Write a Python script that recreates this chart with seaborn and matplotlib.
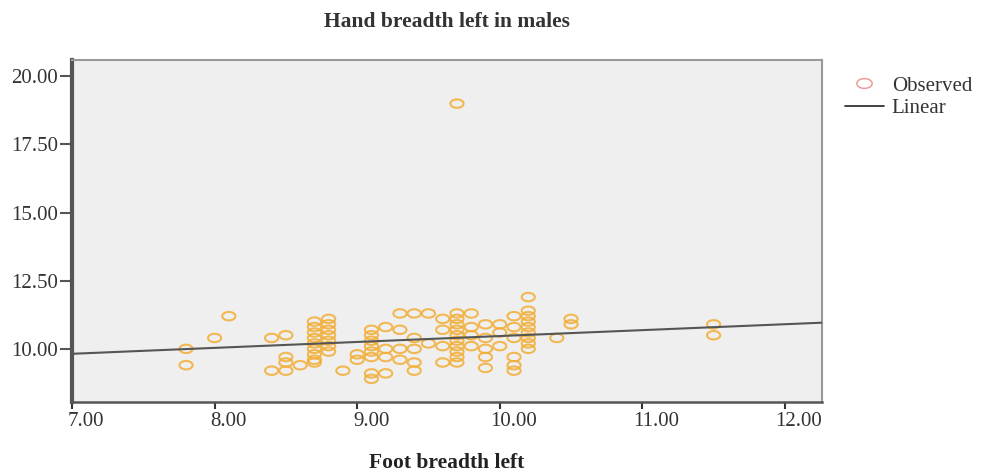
import numpy as np
import pandas as pd
import seaborn as sns
import matplotlib
matplotlib.use("Agg")
import matplotlib.pyplot as plt
from matplotlib.path import Path
from matplotlib.lines import Line2D
from matplotlib.transforms import ScaledTranslation

# ---- data ----
foot_breadth = (
    [7.8] * 2 + [8.0] + [8.1] + [8.4] * 2 + [8.5] * 4 + [8.6] + [8.7] * 9 + [8.8] * 7 +
    [8.9] + [9.0] * 2 + [9.1] * 8 + [9.2] * 4 + [9.3] * 4 + [9.4] * 5 + [9.5] * 2 +
    [9.6] * 4 + [9.7] * 11 + [9.8] * 4 + [9.9] * 5 + [10.0] * 3 + [10.1] * 6 +
    [10.2] * 9 + [10.4] + [10.5] * 2 + [11.5] * 2
)
hand_breadth = (
    [10.0, 9.4] + [10.4] + [11.2] + [10.4, 9.2] + [10.5, 9.7, 9.5, 9.2] + [9.4] +
    [11.0, 10.8, 10.6, 10.4, 10.2, 10.0, 9.8, 9.6, 9.5] +
    [11.1, 10.9, 10.7, 10.5, 10.3, 10.1, 9.9] +
    [9.2] + [9.8, 9.6] + [10.7, 10.5, 10.3, 10.1, 9.9, 9.7, 9.1, 8.9] +
    [10.8, 10.0, 9.7, 9.1] + [11.3, 10.7, 10.0, 9.6] + [11.3, 10.4, 10.0, 9.5, 9.2] +
    [11.3, 10.2] + [11.1, 10.7, 10.1, 9.5] +
    [19.0, 11.3, 11.1, 10.9, 10.7, 10.5, 10.3, 10.1, 9.9, 9.7, 9.5] +
    [11.3, 10.8, 10.5, 10.1] + [10.9, 10.4, 10.0, 9.7, 9.3] + [10.9, 10.6, 10.1] +
    [11.2, 10.8, 10.4, 9.7, 9.4, 9.2] +
    [11.9, 11.4, 11.2, 11.0, 10.8, 10.6, 10.4, 10.2, 10.0] + [10.4] + [11.1, 10.9] +
    [10.9, 10.5]
)
fit_intercept = 8.30
fit_slope = 0.217

x_ticks = [7.0, 8.0, 9.0, 10.0, 11.0, 12.0]
y_ticks = [10.0, 12.5, 15.0, 17.5, 20.0]
title = "Hand breadth left in males"
x_label = "Foot breadth left"
legend_labels = ["Observed", "Linear"]

df = pd.DataFrame({"foot": foot_breadth, "hand": hand_breadth})

# ---- style ----
sns.set_theme(style="white")
plt.rcParams["font.family"] = ["Liberation Serif", "DejaVu Serif"]

fig = plt.figure(figsize=(9.82, 4.72), dpi=100)
ax = fig.add_axes([72 / 982, 1 - 402 / 472, 750 / 982, 342 / 472])
ax.set_facecolor("#efefef")

# elliptical open marker (the reference circles are squashed)
t = np.linspace(0, 2 * np.pi, 60)
ellipse = Path(np.column_stack([np.cos(t), 0.64 * np.sin(t)]), closed=True)

sns.scatterplot(data=df, x="foot", y="hand", ax=ax, marker=ellipse, s=90,
                facecolor="none", edgecolor="#f2ae36", linewidth=1.5, alpha=0.85,
                legend=False, zorder=3)

xlim = (7.0, 12.26)
ylim = (8.05, 20.6)
xs = np.array(xlim)
ax.plot(xs, fit_intercept + fit_slope * xs, color="#555555", lw=1.5, zorder=4)

ax.set_xlim(*xlim)
ax.set_ylim(*ylim)
ax.set_xticks(x_ticks)
ax.set_yticks(y_ticks)
ax.set_xticklabels([f"{v:.2f}" for v in x_ticks])
ax.set_yticklabels([f"{v:.2f}" for v in y_ticks])
ax.tick_params(axis="x", direction="out", length=5, width=1.5, color="#333333",
               labelsize=15, labelcolor="#333333", pad=2, bottom=True)
ax.tick_params(axis="y", direction="out", length=9, width=1.5, color="#555555",
               labelsize=15, labelcolor="#333333", pad=1, left=True)
offset = ScaledTranslation(14 / 100, 0, fig.dpi_scale_trans)
for lab in ax.get_xticklabels():
    lab.set_transform(lab.get_transform() + offset)

ax.set_xlabel(x_label, fontsize=15.5, fontweight="bold", color="#222222", labelpad=16)
ax.set_ylabel("")
ax.set_title(title, fontsize=15.5, fontweight="bold", color="#333333", pad=24)

for side, lw, c in [("left", 3.0, "#555555"), ("bottom", 1.8, "#555555"),
                    ("top", 1.5, "#999999"), ("right", 1.5, "#999999")]:
    ax.spines[side].set_visible(True)
    ax.spines[side].set_linewidth(lw)
    ax.spines[side].set_color(c)

handles = [
    Line2D([], [], marker=ellipse, linestyle="none", markersize=11,
           markerfacecolor="none", markeredgecolor="#f09a9a", markeredgewidth=1.1),
    Line2D([], [], color="#222222", lw=1.2),
]
leg = fig.legend(handles, legend_labels, loc="upper left",
                 bbox_to_anchor=(845 / 982, 1 - 76 / 472), frameon=False,
                 fontsize=15, handlelength=1.85, handletextpad=0.4,
                 labelspacing=0.15, borderaxespad=0, borderpad=0)
for txt in leg.get_texts():
    txt.set_color("#333333")

fig.savefig("out.png", dpi=100)
